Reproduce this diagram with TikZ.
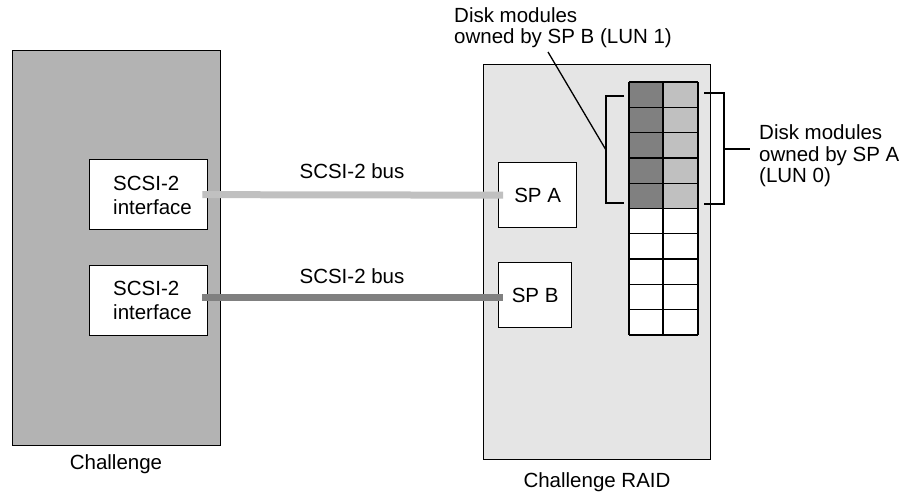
\documentclass[tikz,border=0pt]{standalone}
\usepackage{fontspec}
\setmainfont{Liberation Sans}
\definecolor{hostgray}{HTML}{B3B3B3}
\definecolor{raidgray}{HTML}{E5E5E5}
\definecolor{lightbus}{HTML}{C0C0C0}
\definecolor{darkbus}{HTML}{808080}
\begin{document}
\begin{tikzpicture}[x=1pt,y=-1pt,
  box/.style={draw=black, line width=1.3pt, fill=white, inner sep=0pt, anchor=north west, align=left, font=\fontsize{20.5}{24}\selectfont},
  lbl/.style={font=\fontsize{20.5}{21.5}\selectfont, align=left, inner sep=0pt},
  bus/.style={line width=7pt},
  thinline/.style={line width=1.3pt, black}
]
\useasboundingbox (0,0) rectangle (918,498);
% enclosures
\node[box, fill=hostgray, minimum width=208pt, minimum height=395pt] (host) at (12,50) {};
\node[box, fill=raidgray, minimum width=227pt, minimum height=395pt] (raid) at (483,64) {};
% interfaces and SPs
\node[box, minimum width=118pt, minimum height=70pt, xshift=0pt] (ifA) at (89,159) {};
\node[lbl, anchor=west, font=\fontsize{20.5}{24}\selectfont] (ifAt) at (113,195) {SCSI-2\\interface};
\node[box, minimum width=118pt, minimum height=70pt] (ifB) at (89,265) {};
\node[lbl, anchor=west, font=\fontsize{20.5}{24}\selectfont] (ifBt) at (113,300) {SCSI-2\\interface};
\node[box, minimum width=78pt, minimum height=65pt] (spA) at (498,162) {SP A};
\node[box, minimum width=73pt, minimum height=65pt] (spB) at (498,262) {SP B};
% buses
\draw[bus, lightbus] ([xshift=-6pt]ifA.east) -- ([xshift=5pt]spA.west);
\draw[bus, darkbus] ([shift={(-6pt,3pt)}]ifB.east) -- ([shift={(5pt,-2.5pt)}]spB.west);
\node[lbl] (busA) at (352,171) {SCSI-2 bus};
\node[lbl] (busB) at (352,276) {SCSI-2 bus};
% disk grid
\fill[darkbus] (629,82) rectangle (663,208.5);
\fill[lightbus] (663,82) rectangle (698,208.5);
\fill[white] (629,208.5) rectangle (698,335);
\foreach \i in {0,...,10} \draw[thinline] (629,{82+25.3*\i}) -- (698,{82+25.3*\i});
\draw[thinline] (629,82) -- (629,335) (663,82) -- (663,335) (698,82) -- (698,335);
% left bracket (SP B)
\coordinate (bB) at (606,150);
\coordinate (pB) at (548,52);
\draw[thinline] (624,96) -- (606,96) -- (606,203) -- (624,203);
\draw[thinline] (bB) -- (pB);
\node[lbl, anchor=base west] (lunB) at (454,43.5) {Disk modules\\owned by SP B (LUN 1)};
% right bracket (SP A)
\coordinate (bA) at (724,149);
\coordinate (pA) at (750,149);
\draw[thinline] (704,93) -- (724,93) -- (724,204) -- (704,204);
\draw[thinline] (bA) -- (pA);
\node[lbl, anchor=base west] (lunA) at (759,182.5) {Disk modules\\owned by SP A\\(LUN 0)};
% captions
\node[lbl] (capH) at (116,464) {Challenge};
\node[lbl] (capR) at (597,482) {Challenge RAID};
\end{tikzpicture}
\end{document}
